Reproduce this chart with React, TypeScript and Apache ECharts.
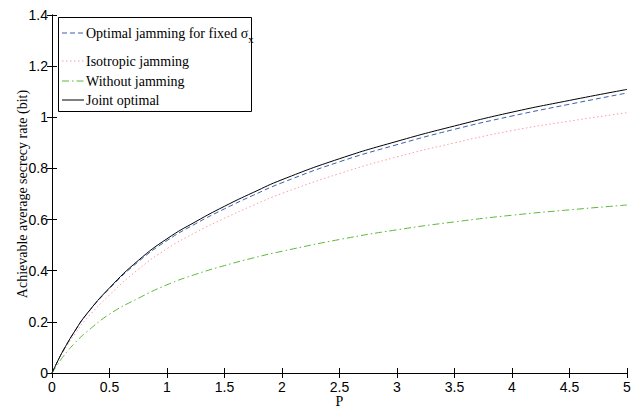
import React, { useEffect, useRef } from "react";
import * as echarts from "echarts";

const pValues = [0, 0.05, 0.1, 0.2, 0.3, 0.5, 0.75, 1, 1.25, 1.5, 1.75, 2, 2.5, 3, 3.5, 4, 4.5, 5];
const optimalFixed = [0, 0.047, 0.09, 0.165, 0.229, 0.33, 0.435, 0.518, 0.584, 0.642, 0.695, 0.744, 0.826, 0.893, 0.953, 1.005, 1.051, 1.095];
const isotropic = [0, 0.045, 0.085, 0.153, 0.212, 0.305, 0.405, 0.486, 0.55, 0.605, 0.656, 0.702, 0.78, 0.845, 0.9, 0.948, 0.985, 1.018];
const withoutJamming = [0, 0.034, 0.066, 0.118, 0.16, 0.23, 0.292, 0.345, 0.386, 0.42, 0.45, 0.476, 0.522, 0.56, 0.591, 0.617, 0.638, 0.657];
const jointOptimal = [0, 0.047, 0.09, 0.165, 0.23, 0.333, 0.44, 0.525, 0.592, 0.652, 0.706, 0.756, 0.838, 0.906, 0.966, 1.02, 1.066, 1.109];

const legendNames = ["Optimal jamming for fixed σ", "Isotropic jamming", "Without jamming", "Joint optimal"];
const colors = ["#3a5fb0", "#ff9aa6", "#5cb83a", "#000000"];
const dashTypes: any[] = [[5, 3], [1.5, 2.5], [7, 3, 1.5, 3], "solid"];

const zip = (ys: number[]) => pValues.map((x, i) => [x, ys[i]]);

export default function App() {
  const ref = useRef<HTMLDivElement>(null);
  useEffect(() => {
    if (!ref.current) return;
    const chart = echarts.init(ref.current, null, { renderer: "svg" });
    const seriesData = [optimalFixed, isotropic, withoutJamming, jointOptimal];
    const axisCommon = {
      axisLine: { lineStyle: { color: "#000", width: 1 } },
      axisTick: { inside: true, length: 5, lineStyle: { color: "#000" } },
      splitLine: { show: false },
    };
    const labelStyle = { color: "#000", fontFamily: "Liberation Sans, Arial, sans-serif", fontSize: 14 };
    const legendRows = [33, 61, 81, 100];
    const graphics: any[] = [
      {
        type: "rect",
        shape: { x: 58.5, y: 17.5, width: 193, height: 94 },
        style: { fill: "#fff", stroke: "#000", lineWidth: 1 },
        z: 100,
      },
    ];
    legendNames.forEach((name, i) => {
      graphics.push({
        type: "line",
        shape: { x1: 62, y1: legendRows[i], x2: 84, y2: legendRows[i] },
        style: { stroke: colors[i], lineWidth: 1, lineDash: dashTypes[i] === "solid" ? null : dashTypes[i] },
        z: 101,
      });
      graphics.push({
        type: "text",
        x: 86,
        y: legendRows[i],
        style: {
          text: i === 0 ? "{a|" + name + "}{s|x}" : name,
          fill: "#000",
          font: "14px 'Liberation Serif', 'Times New Roman', serif",
          verticalAlign: "middle",
          rich: i === 0 ? {
            a: { fontSize: 14, fontFamily: "Liberation Serif", fill: "#000" },
            s: { fontSize: 11, fontFamily: "Liberation Serif", fill: "#000", padding: [12, 0, 0, 0] },
          } : undefined,
        },
        z: 101,
      });
    });
    chart.setOption({
      animation: false,
      backgroundColor: "#fff",
      grid: { left: 52, right: 13, top: 15, bottom: 35, outerBoundsMode: "none", containLabel: false },
      xAxis: [
        {
          type: "value", min: 0, max: 5, interval: 0.5,
          ...axisCommon,
          axisLabel: { ...labelStyle, margin: 7 },
          name: "P", nameLocation: "middle", nameGap: 21, nameMoveOverlap: false,
          nameTextStyle: { color: "#000", fontFamily: "Liberation Serif", fontSize: 14 },
        },
        {
          type: "value", position: "top", min: 0, max: 5, interval: 0.5,
          ...axisCommon, axisLabel: { show: false },
        },
      ],
      yAxis: [
        {
          type: "value", min: 0, max: 1.4, interval: 0.2,
          ...axisCommon,
          axisLabel: { ...labelStyle, margin: 4 },
          name: "Achievable average secrecy rate (bit)", nameLocation: "middle", nameGap: 23, nameMoveOverlap: false,
          nameTextStyle: { color: "#000", fontFamily: "Liberation Serif", fontSize: 14 },
        },
        {
          type: "value", position: "right", min: 0, max: 1.4, interval: 0.2,
          ...axisCommon, axisLabel: { show: false },
        },
      ],
      series: seriesData.map((d, i) => ({
        type: "line",
        name: legendNames[i],
        data: zip(d),
        showSymbol: false,
        smooth: 0.5,
        lineStyle: { color: colors[i], width: 1, type: dashTypes[i] },
        z: i === 3 ? 5 : 3,
      })),
      graphic: graphics,
    });
    return () => chart.dispose();
  }, []);
  return <div ref={ref} style={{ position: "fixed", left: 0, top: 0, width: 640, height: 408 }} />;
}
